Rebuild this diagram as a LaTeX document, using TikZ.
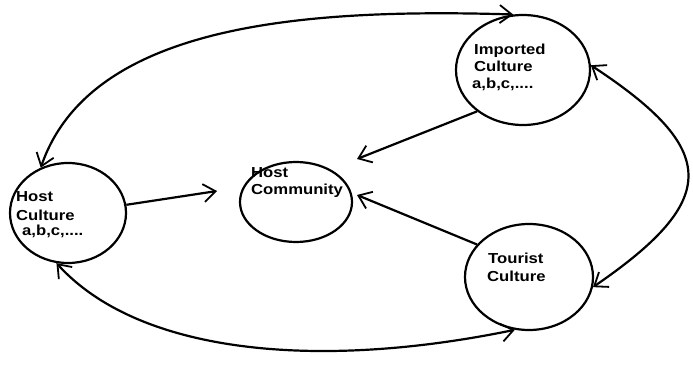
\documentclass[tikz,border=0pt]{standalone}
\usepackage{fontspec}
\setmainfont{Liberation Sans}[FakeStretch=1.15]
\usetikzlibrary{arrows.meta,shapes.geometric}
\begin{document}
\begin{tikzpicture}[x=1pt,y=-1pt,
  bubble/.style={draw,ellipse,line width=2.2pt,inner sep=0pt},
  txt/.style={anchor=base west,inner sep=0pt,font=\fontsize{14.5}{16}\selectfont\bfseries},
  tip/.tip={Straight Barb[length=12pt,width=18pt,line width=1.8pt]},
  link/.style={line width=2.2pt,-tip},
  dlink/.style={line width=2.2pt,tip-tip}]
\useasboundingbox (0,0) rectangle (693,366);

% the four cultures
\node[bubble,minimum width=116pt,minimum height=100pt] (hc) at (68,213) {};
\node[bubble,minimum width=112pt,minimum height=80pt] (hcom) at (296,202) {};
\node[bubble,minimum width=134pt,minimum height=110pt] (imp) at (523,70) {};
\node[bubble,minimum width=128pt,minimum height=106pt] (tour) at (529,277) {};

% labels
\node[txt] (hc1) at (16,202) {Host};
\node[txt] (hc2) at (16,220) {Culture};
\node[txt] (hc3) at (22,235) {a,b,c,....};
\node[txt] (hm1) at (251,178) {Host};
\node[txt] (hm2) at (251,195) {Community};
\node[txt] (im1) at (474,55) {Imported};
\node[txt] (im2) at (474,72) {Culture};
\node[txt] (im3) at (472,89) {a,b,c,....};
\node[txt] (tc1) at (488,263) {Tourist};
\node[txt] (tc2) at (487,281) {Culture};

% free ends of the arrows into the host community
\coordinate (e1) at (217,191);
\coordinate (e2) at (357,159);
\coordinate (e3) at (357,195);

% influences on the host community
\draw[link] (hc.8) -- (e1);
\draw[link] (imp.222) -- (e2);
\draw[link] (tour.148) -- (e3);

% mutual exchanges between cultures
\draw[dlink] (hc.121) .. controls (90,25) and (300,8) .. (imp.100);
\draw[dlink] (hc.-103) .. controls (140,355) and (320,370) .. (tour.-105);
\draw[dlink] (imp.4) .. controls (720,150) and (720,200) .. (tour.-9);
\end{tikzpicture}
\end{document}
